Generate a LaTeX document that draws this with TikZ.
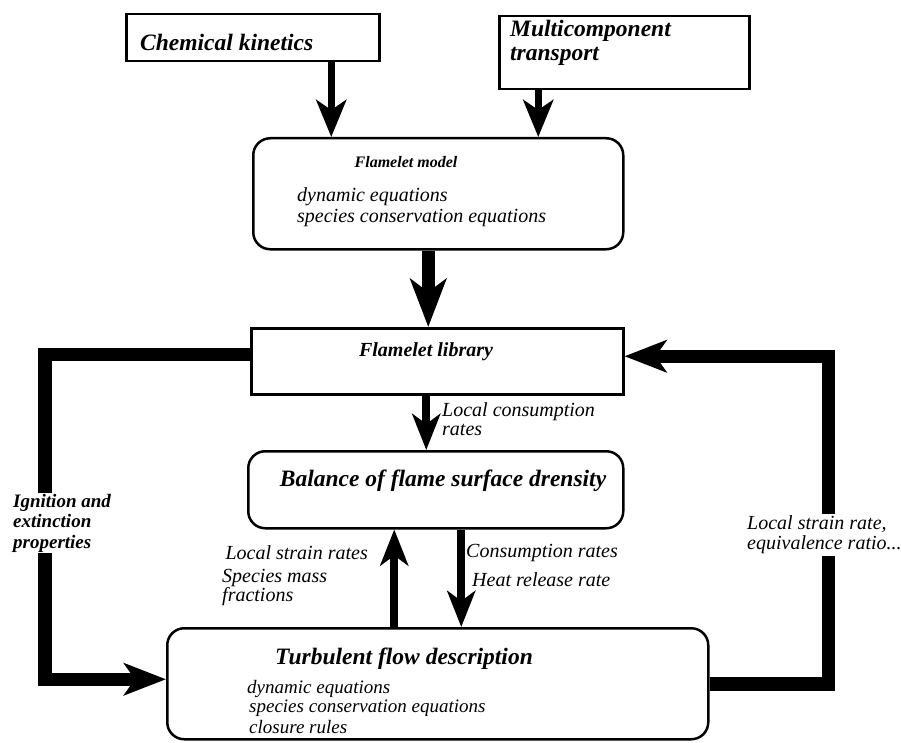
\documentclass[tikz,border=0pt]{standalone}
\usepackage{fontspec}
\setmainfont{Liberation Serif}
\usetikzlibrary{arrows.meta}

\tikzset{
  sqbox/.style={draw, line width=2.5pt, anchor=north west, inner sep=0pt},
  rbox/.style={draw, line width=2.5pt, rounded corners=17pt, anchor=north west, inner sep=0pt},
  bigtitle/.style={font=\fontsize{23.5}{21}\selectfont\bfseries\itshape, inner sep=0pt},
  midtitle/.style={font=\fontsize{20}{22}\selectfont\bfseries\itshape, inner sep=0pt},
  smalltitle/.style={font=\fontsize{16}{18}\selectfont\bfseries\itshape, inner sep=0pt},
  body/.style={font=\fontsize{20}{21}\selectfont\itshape, inner sep=0pt, anchor=west},
  tightbody/.style={font=\fontsize{19}{20}\selectfont\itshape, inner sep=0pt, anchor=west},
  sidelbl/.style={font=\fontsize{19}{20.5}\selectfont\bfseries\itshape, fill=white,
    inner xsep=2pt, inner ysep=1pt, align=left, anchor=west},
  sidelblr/.style={font=\fontsize{20}{20}\selectfont\itshape, fill=white,
    inner xsep=2pt, inner ysep=2pt, align=left, anchor=west},
  feed/.style={line width=6.5pt, -{Stealth[length=37pt, width=30pt, inset=10pt]}},
  mainarrow/.style={line width=13pt, -{Stealth[length=48pt, width=36pt, inset=13pt]}},
  minor/.style={line width=8pt, -{Stealth[length=36pt, width=28pt, inset=10pt]}},
  loopline/.style={line width=13.5pt, line join=miter, -{Stealth[length=42pt, width=32pt, inset=11pt]}},
}

\begin{document}
\begin{tikzpicture}[x=1pt, y=-1pt]
  \useasboundingbox (0,0) rectangle (901,743);

  % input boxes
  \node[sqbox, minimum width=253pt, minimum height=47pt] (ck) at (125,13) {};
  \node[bigtitle, anchor=west] (cktext) at (140,42) {Chemical kinetics};

  \node[sqbox, minimum width=250pt, minimum height=73pt] (mt) at (498,15) {};
  \node[bigtitle, anchor=west] (mttext1) at (510,31) {Multicomponent};
  \node[bigtitle, anchor=west] (mttext2) at (510,56) {transport};

  % flamelet model
  \node[rbox, minimum width=370pt, minimum height=111pt] (fm) at (252,137) {};
  \node[smalltitle] (fmtitle) at (406,162) {Flamelet model};
  \node[body] (fmline1) at (297,197) {dynamic equations};
  \node[body] (fmline2) at (297,218) {species conservation equations};

  % flamelet library
  \node[sqbox, minimum width=372pt, minimum height=66pt] (lib) at (250,327) {};
  \node[midtitle] (libtitle) at (426,352) {Flamelet library};

  % balance of flame surface density
  \node[rbox, minimum width=375pt, minimum height=77pt] (bal) at (247,450) {};
  \node[bigtitle] (baltitle) at (443,481) {Balance of flame surface drensity};

  % turbulent flow description
  \node[rbox, minimum width=541pt, minimum height=111pt] (turb) at (166,627) {};
  \node[bigtitle] (turbtitle) at (404,659) {Turbulent flow description};
  \node[tightbody] (turbline1) at (247,689) {dynamic equations};
  \node[tightbody] (turbline2) at (249,708) {species conservation equations};
  \node[tightbody] (turbline3) at (249,727) {closure rules};

  % inputs to the flamelet model and its output
  \draw[feed] ([xshift=78.5pt]ck.south) -- ([xshift=78.5pt]ck.south |- fm.north);
  \draw[feed] ([xshift=-86pt]mt.south) -- ([xshift=-86pt]mt.south |- fm.north);
  \draw[mainarrow] ([xshift=-10pt]fm.south) -- ([xshift=-10pt]fm.south |- lib.north);

  % exchanges between library, balance and flow
  \draw[minor] ([xshift=-11pt]lib.south) -- ([xshift=-11pt]lib.south |- bal.north);
  \node[body] (lcr1) at (442,412) {Local consumption};
  \node[body] (lcr2) at (442,430) {rates};

  \draw[minor] ([xshift=-41.5pt]turb.north -| bal.south) -- ([xshift=-41.5pt]bal.south);
  \node[body, anchor=east] (lsr) at (368,553) {Local strain rates};
  \node[body] (smf1) at (222,578) {Species mass};
  \node[body] (smf2) at (222,597) {fractions};

  \draw[minor] ([xshift=25.5pt]bal.south) -- ([xshift=25.5pt]bal.south |- turb.north);
  \node[body] (cr) at (466,553) {Consumption rates};
  \node[body] (hrr) at (472,580) {Heat release rate};

  % feedback loops
  \draw[loopline] ([yshift=7pt]lib.west) -| ([xshift=-121pt, yshift=4.5pt]turb.west) -- ([yshift=4.5pt]turb.west);
  \node[sidelbl] (ign) at (11,523) {Ignition and\\extinction\\properties};

  \draw[loopline] (turb.east) -| ([xshift=204pt, yshift=5pt]lib.east) -- ([yshift=5pt]lib.east);
  \node[sidelblr] (lsrr) at (745,535) {Local strain rate,\\equivalence ratio...};
\end{tikzpicture}
\end{document}
